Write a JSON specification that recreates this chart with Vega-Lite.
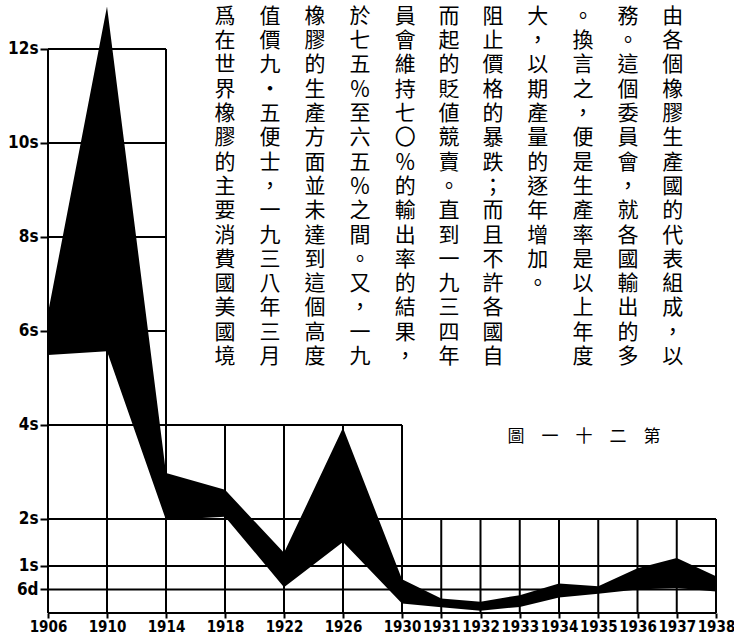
{
  "$schema": "https://vega.github.io/schema/vega-lite/v6.json",
  "width": 668,
  "height": 613,
  "autosize": {"type": "none"},
  "padding": {"left": 48, "top": 0, "right": 18, "bottom": 24},
  "background": "white",
  "config": {"view": {"stroke": null}},
  "datasets": {
    "price": [
      {"year": 1906, "low": 5.49, "high": 6.38},
      {"year": 1910, "low": 5.57, "high": 12.9},
      {"year": 1914, "low": 1.98, "high": 2.98},
      {"year": 1918, "low": 2.05, "high": 2.62},
      {"year": 1922, "low": 0.55, "high": 1.28},
      {"year": 1926, "low": 1.51, "high": 3.94},
      {"year": 1930, "low": 0.2, "high": 0.72},
      {"year": 1931, "low": 0.12, "high": 0.31},
      {"year": 1932, "low": 0.05, "high": 0.24},
      {"year": 1933, "low": 0.13, "high": 0.38},
      {"year": 1934, "low": 0.33, "high": 0.63},
      {"year": 1935, "low": 0.41, "high": 0.57},
      {"year": 1936, "low": 0.5, "high": 0.95},
      {"year": 1937, "low": 0.53, "high": 1.17},
      {"year": 1938, "low": 0.46, "high": 0.78}
    ],
    "hgrid": [
      {"y": 12, "x1": 1906, "x2": 1914},
      {"y": 10, "x1": 1906, "x2": 1914},
      {"y": 8, "x1": 1906, "x2": 1914},
      {"y": 6, "x1": 1906, "x2": 1914},
      {"y": 4, "x1": 1906, "x2": 1930},
      {"y": 2, "x1": 1906, "x2": 1938},
      {"y": 1, "x1": 1906, "x2": 1938},
      {"y": 0.5, "x1": 1906, "x2": 1938},
      {"y": 0, "x1": 1906, "x2": 1938}
    ],
    "vgrid": [
      {"x": 1906, "y1": 0, "y2": 12},
      {"x": 1910, "y1": 0, "y2": 12},
      {"x": 1914, "y1": 0, "y2": 12},
      {"x": 1918, "y1": 0, "y2": 4},
      {"x": 1922, "y1": 0, "y2": 4},
      {"x": 1926, "y1": 0, "y2": 4},
      {"x": 1930, "y1": 0, "y2": 4},
      {"x": 1931, "y1": 0, "y2": 2},
      {"x": 1932, "y1": 0, "y2": 2},
      {"x": 1933, "y1": 0, "y2": 2},
      {"x": 1934, "y1": 0, "y2": 2},
      {"x": 1935, "y1": 0, "y2": 2},
      {"x": 1936, "y1": 0, "y2": 2},
      {"x": 1937, "y1": 0, "y2": 2},
      {"x": 1938, "y1": 0, "y2": 2}
    ],
    "cols": [
      {"x": 1918.0, "y": 12.915, "t": "爲\n在\n世\n界\n橡\n膠\n的\n主\n要\n消\n費\n國\n美\n國\n境"},
      {"x": 1921.05, "y": 12.915, "t": "值\n價\n九\n・\n五\n便\n士\n，\n一\n九\n三\n八\n年\n三\n月"},
      {"x": 1924.1, "y": 12.915, "t": "橡\n膠\n的\n生\n產\n方\n面\n並\n未\n達\n到\n這\n個\n高\n度"},
      {"x": 1927.15, "y": 12.915, "t": "於\n七\n五\n％\n至\n六\n五\n％\n之\n間\n。\n又\n，\n一\n九"},
      {"x": 1930.08, "y": 12.915, "t": "員\n會\n維\n持\n七\n〇\n％\n的\n輸\n出\n率\n的\n結\n果\n，"},
      {"x": 1931.2, "y": 12.915, "t": "而\n起\n的\n貶\n値\n競\n賣\n。\n直\n到\n一\n九\n三\n四\n年"},
      {"x": 1932.32, "y": 12.915, "t": "阻\n止\n價\n格\n的\n暴\n跌\n；\n而\n且\n不\n許\n各\n國\n自"},
      {"x": 1933.46, "y": 12.915, "t": "大\n，\n以\n期\n產\n量\n的\n逐\n年\n增\n加\n。"},
      {"x": 1934.61, "y": 12.915, "t": "。\n換\n言\n之\n，\n便\n是\n生\n產\n率\n是\n以\n上\n年\n度"},
      {"x": 1935.76, "y": 12.915, "t": "務\n。\n這\n個\n委\n員\n會\n，\n就\n各\n國\n輸\n出\n的\n多"},
      {"x": 1936.9, "y": 12.915, "t": "由\n各\n個\n橡\n膠\n生\n產\n國\n的\n代\n表\n組\n成\n，\n以"}
    ],
    "title": [
      {"x": 1934.64, "y": 3.745, "t": "圖　一　十　二　第"}
    ]
  },
  "layer": [
    {
      "data": {"name": "price"},
      "mark": {"type": "area", "color": "black", "opacity": 1, "interpolate": "linear"},
      "encoding": {
        "x": {
          "field": "year", "type": "quantitative",
          "scale": {"type": "linear", "domain": [1906, 1930, 1938], "range": [0, 354, 668], "nice": false, "zero": false},
          "axis": {
            "title": null, "values": [1906, 1910, 1914, 1918, 1922, 1926, 1930, 1931, 1932, 1933, 1934, 1935, 1936, 1937, 1938],
            "format": "d", "domain": false, "grid": false, "ticks": true, "tickSize": 5, "tickWidth": 2, "tickColor": "black",
            "labelFont": "DejaVu Sans Condensed, DejaVu Sans", "labelFontWeight": "bold", "labelFontSize": 15, "labelColor": "black",
            "labelPadding": 1, "labelOverlap": false, "labelFlush": false, "labelBound": false
          }
        },
        "y": {
          "field": "low", "type": "quantitative",
          "scale": {"domain": [0, 13.04], "nice": false, "zero": true},
          "axis": {
            "title": null, "values": [0.5, 1, 2, 4, 6, 8, 10, 12],
            "labelExpr": "datum.value == 0.5 ? '6d' : datum.value + 's'",
            "domain": false, "grid": false, "ticks": true, "tickSize": 8, "tickWidth": 2, "tickColor": "black",
            "labelFont": "DejaVu Sans Condensed, DejaVu Sans", "labelFontWeight": "bold", "labelFontSize": 17, "labelColor": "black",
            "labelPadding": 2, "labelOverlap": false, "labelFlush": false, "labelBound": false
          }
        },
        "y2": {"field": "high"}
      }
    },
    {
      "data": {"name": "hgrid"},
      "mark": {"type": "rule", "color": "black", "strokeWidth": 2},
      "encoding": {
        "x": {"field": "x1", "type": "quantitative"},
        "x2": {"field": "x2"},
        "y": {"field": "y", "type": "quantitative"}
      }
    },
    {
      "data": {"name": "vgrid"},
      "mark": {"type": "rule", "color": "black", "strokeWidth": 2},
      "encoding": {
        "x": {"field": "x", "type": "quantitative"},
        "y": {"field": "y1", "type": "quantitative"},
        "y2": {"field": "y2"}
      }
    },
    {
      "data": {"name": "cols"},
      "mark": {"type": "text", "font": "Noto Sans CJK TC", "fontSize": 21, "lineBreak": "\n", "lineHeight": 24.3, "baseline": "top", "align": "center", "color": "black"},
      "encoding": {
        "x": {"field": "x", "type": "quantitative"},
        "y": {"field": "y", "type": "quantitative"},
        "text": {"field": "t"}
      }
    },
    {
      "data": {"name": "title"},
      "mark": {"type": "text", "font": "Noto Sans CJK TC", "fontSize": 17, "baseline": "middle", "align": "center", "color": "black"},
      "encoding": {
        "x": {"field": "x", "type": "quantitative"},
        "y": {"field": "y", "type": "quantitative"},
        "text": {"field": "t"}
      }
    }
  ]
}
